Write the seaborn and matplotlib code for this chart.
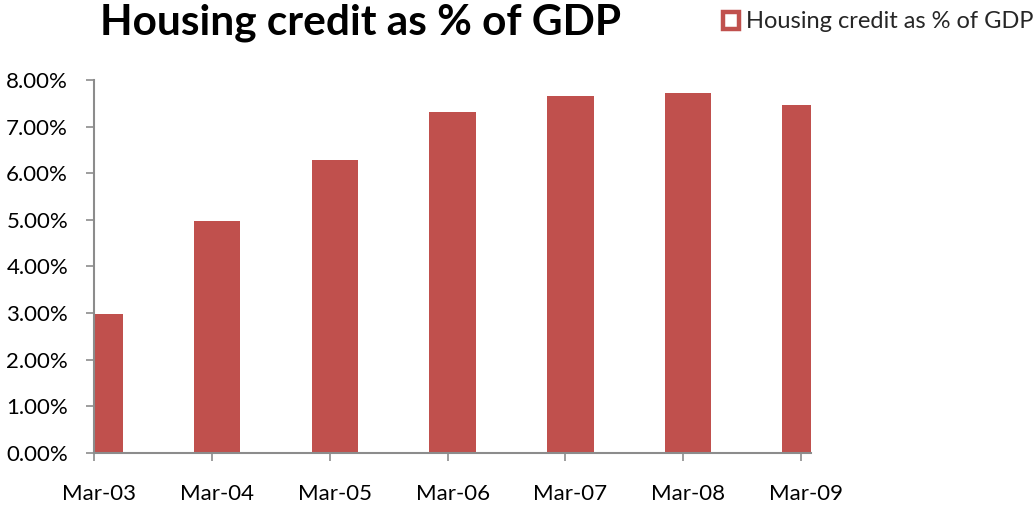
import matplotlib
matplotlib.use("Agg")
import matplotlib.pyplot as plt
from matplotlib.patches import Patch
from matplotlib.ticker import FixedLocator, PercentFormatter
import numpy as np
import pandas as pd
import seaborn as sns

# Housing credit as a share of GDP, March of each year
periods = ["Mar-03", "Mar-04", "Mar-05", "Mar-06", "Mar-07", "Mar-08", "Mar-09"]
credit_pct = [2.98, 4.97, 6.28, 7.31, 7.66, 7.715, 7.465]
y_ticks = [0, 1, 2, 3, 4, 5, 6, 7, 8]
series_name = "Housing credit as % of GDP"

BAR = "#C0504D"
AXIS = "#8C8C8C"

sns.set_theme(style="white")
plt.rcParams["font.family"] = ["Lato", "DejaVu Sans"]

# Monthly date axis: each observation occupies one month slot,
# the tick sits at the start of the slot and the bar at its middle.
dates = pd.to_datetime(periods, format="%b-%y")
month_idx = (dates.year - dates.year[0]) * 12 + (dates.month - dates.month[0])
df = pd.DataFrame({"month": month_idx + 0.5, "credit": credit_pct})
n_slots = int(month_idx.max()) + 1

fig = plt.figure(figsize=(10.36, 5.08), dpi=100)
ax = fig.add_axes([0.0912, 0.1083, 0.7825 - 0.0912, 0.8425 - 0.1083])

sns.barplot(data=df, x="month", y="credit", native_scale=True, width=0.396,
            color=BAR, saturation=1, edgecolor="none", linewidth=0, ax=ax)

ax.set_xlim(0, n_slots)
ax.set_ylim(0, 8)
ax.set_xlabel("")
ax.set_ylabel("")

# x axis: tick marks at slot starts, labels centred under the bars
ax.xaxis.set_major_locator(FixedLocator(list(month_idx)))
ax.xaxis.set_minor_locator(FixedLocator(list(month_idx + 0.5)))
ax.set_xticklabels([], minor=False)
ax.set_xticklabels(periods, minor=True)
ax.tick_params(axis="x", which="major", direction="out", length=6, width=1.2,
               color=AXIS, bottom=True)
ax.tick_params(axis="x", which="minor", length=0, pad=22, labelsize=16,
               labelcolor="black", bottom=True)

ax.set_yticks(y_ticks)
ax.yaxis.set_major_formatter(PercentFormatter(decimals=2))
ax.tick_params(axis="y", direction="out", length=6, width=1.2, color=AXIS,
               pad=13, labelsize=16, labelcolor="black", left=True)

for side in ("top", "right"):
    ax.spines[side].set_visible(False)
for side in ("left", "bottom"):
    ax.spines[side].set_color(AXIS)
    ax.spines[side].set_linewidth(1.5)
ax.grid(False)

fig.text(100 / 1036, 1 - 23 / 508, series_name, fontsize=30.5, fontweight="bold",
         ha="left", va="center", color="black")

handle = Patch(facecolor="white", edgecolor=BAR, linewidth=3.2)
fig.legend([handle], [series_name], loc="center right",
           bbox_to_anchor=(1034 / 1036, 1 - 22 / 508), frameon=False,
           fontsize=17, handlelength=0.7, handleheight=0.7,
           handletextpad=0.3, borderaxespad=0, borderpad=0)

fig.savefig("out.png", dpi=100, facecolor="white")
